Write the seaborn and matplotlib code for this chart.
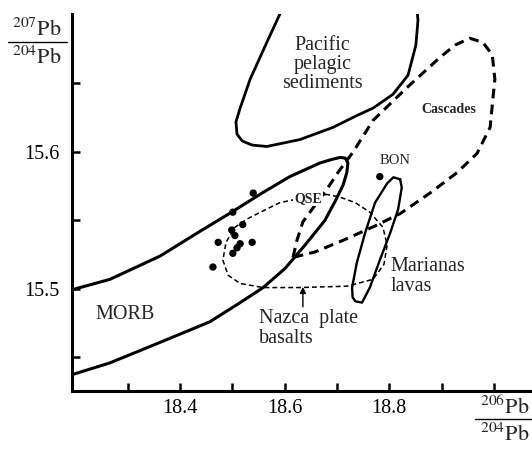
import matplotlib
matplotlib.use("Agg")
import matplotlib.pyplot as plt
from matplotlib.lines import Line2D
from matplotlib.ticker import FixedLocator
import seaborn as sns

# Pb isotope fields (206Pb/204Pb, 207Pb/204Pb)
morb_x = [18.19, 18.266, 18.362, 18.438, 18.490, 18.557, 18.610, 18.668, 18.690,
          18.706, 18.716, 18.721, 18.719, 18.712, 18.698, 18.677, 18.639, 18.601,
          18.559, 18.515, 18.457, 18.362, 18.266, 18.19]
morb_y = [15.499, 15.507, 15.524, 15.542, 15.554, 15.570, 15.582, 15.592, 15.5945,
          15.596, 15.5955, 15.592, 15.585, 15.576, 15.565, 15.550, 15.532, 15.515,
          15.501, 15.490, 15.476, 15.461, 15.446, 15.437]

pacific_x = [18.595, 18.566, 18.534, 18.515, 18.507, 18.509, 18.519, 18.538, 18.566,
             18.629, 18.693, 18.735, 18.769, 18.807, 18.836, 18.851, 18.855, 18.853]
pacific_y = [15.704, 15.680, 15.653, 15.632, 15.622, 15.613, 15.608, 15.605, 15.604,
             15.609, 15.618, 15.626, 15.632, 15.642, 15.656, 15.678, 15.696, 15.705]

cascades_x = [18.616, 18.624, 18.635, 18.658, 18.683, 18.702, 18.731, 18.769, 18.834,
              18.897, 18.926, 18.954, 18.979, 18.997, 19.002, 18.998, 18.993, 18.968,
              18.930, 18.878, 18.821, 18.773, 18.715, 18.658, 18.616]
cascades_y = [15.523, 15.536, 15.549, 15.561, 15.574, 15.585, 15.600, 15.623, 15.647,
              15.669, 15.678, 15.683, 15.680, 15.671, 15.653, 15.638, 15.618, 15.599,
              15.585, 15.570, 15.555, 15.546, 15.536, 15.527, 15.523]

marianas_x = [18.821, 18.808, 18.796, 18.773, 18.754, 18.738, 18.729, 18.730, 18.735,
              18.748, 18.763, 18.782, 18.802, 18.817, 18.824, 18.821]
marianas_y = [15.580, 15.5815, 15.577, 15.563, 15.541, 15.519, 15.501, 15.494, 15.491,
              15.490, 15.501, 15.521, 15.541, 15.558, 15.574, 15.580]

nazca_x = [18.681, 18.629, 18.591, 18.559, 18.528, 18.505, 18.488, 18.482, 18.492,
           18.515, 18.559, 18.629, 18.719, 18.769, 18.790, 18.796, 18.788, 18.763,
           18.735, 18.706, 18.681]
nazca_y = [15.569, 15.566, 15.563, 15.557, 15.551, 15.545, 15.534, 15.521, 15.510,
           15.504, 15.501, 15.501, 15.502, 15.507, 15.518, 15.532, 15.545, 15.556,
           15.563, 15.567, 15.569]

qse_x = [18.540, 18.501, 18.520, 18.499, 18.505, 18.473, 18.538, 18.515, 18.509,
         18.501, 18.463]
qse_y = [15.570, 15.556, 15.547, 15.543, 15.539, 15.534, 15.534, 15.533, 15.530,
         15.526, 15.516]
bon_x = [18.782]
bon_y = [15.582]

x_major = [18.4, 18.6, 18.8]
x_minor = [18.3, 18.5, 18.7, 18.9, 19.0]
y_major = [15.5, 15.6]
y_minor = [15.45, 15.55, 15.65]

sns.set_theme(style="white")
plt.rcParams["font.family"] = ["Liberation Serif", "DejaVu Serif"]
plt.rcParams["mathtext.fontset"] = "stix"
plt.rcParams["lines.scale_dashes"] = False

fig = plt.figure(figsize=(5.32, 4.53), dpi=100)
ax = fig.add_axes([0.1353, 0.1369, 0.8647, 0.8322])

solid = dict(sort=False, estimator=None, color="black", ax=ax, legend=False)
sns.lineplot(x=morb_x, y=morb_y, lw=2.2, **solid)
sns.lineplot(x=pacific_x, y=pacific_y, lw=2.0, **solid)
sns.lineplot(x=marianas_x, y=marianas_y, lw=1.7, **solid)
sns.lineplot(x=cascades_x, y=cascades_y, lw=2.2, linestyle=(0, (7, 4.5)), **solid)
sns.lineplot(x=nazca_x, y=nazca_y, lw=1.1, linestyle=(0, (3.5, 2.2)), **solid)

sns.scatterplot(x=qse_x + bon_x, y=qse_y + bon_y, color="black", s=28,
                edgecolor="none", ax=ax, legend=False, zorder=5)

# arrow to the Nazca field
ax.annotate("", xy=(18.635, 15.5015), xytext=(18.635, 15.487),
            arrowprops=dict(arrowstyle="-|>", color="black", lw=1.0,
                            mutation_scale=9, shrinkA=0, shrinkB=0))

big = 14.5
ax.text(18.672, 15.664, "Pacific\npelagic\nsediments", ha="center", va="center",
        fontsize=big, linespacing=1.0)
ax.text(18.914, 15.631, "Cascades", ha="center", va="center", fontsize=10, weight="bold")
ax.text(18.812, 15.594, "BON", ha="center", va="center", fontsize=10.5)
ax.text(18.645, 15.566, "QSE", ha="center", va="center", fontsize=10, weight="bold",
        zorder=6, bbox=dict(boxstyle="square,pad=0.1", fc="white", ec="none"))
ax.text(18.295, 15.481, "MORB", ha="center", va="center", fontsize=big)
ax.text(18.803, 15.509, "Marianas\nlavas", ha="left", va="center", fontsize=big,
        linespacing=1.05)
ax.text(18.551, 15.471, "Nazca  plate\nbasalts", ha="left", va="center", fontsize=big,
        linespacing=1.05)

ax.set_xlim(18.1935, 19.073)
ax.set_ylim(15.4255, 15.7007)
ax.xaxis.set_major_locator(FixedLocator(x_major))
ax.xaxis.set_minor_locator(FixedLocator(x_minor))
ax.yaxis.set_major_locator(FixedLocator(y_major))
ax.yaxis.set_minor_locator(FixedLocator(y_minor))
ax.set_xticklabels([f"{v:.1f}" for v in x_major])
ax.set_yticklabels([f"{v:.1f}" for v in y_major])
ax.tick_params(which="both", direction="in", length=6, width=1.8, color="black",
               labelsize=14.5, labelcolor="black")
ax.tick_params(axis="x", which="major", pad=6)
ax.tick_params(axis="y", which="major", pad=9)
ax.tick_params(bottom=True, left=True, which="both")

for side in ["top", "right"]:
    ax.spines[side].set_visible(False)
for side in ["left", "bottom"]:
    ax.spines[side].set_color("black")
    ax.spines[side].set_linewidth(2.2)

# axis titles drawn as ratios
fs = 16
fig.text(37 / 532, 1 - 30 / 453, r"$^{207}\mathrm{Pb}$", ha="center", va="center", fontsize=fs)
fig.text(37 / 532, 1 - 58 / 453, r"$^{204}\mathrm{Pb}$", ha="center", va="center", fontsize=fs)
fig.add_artist(Line2D([8 / 532, 67 / 532], [1 - 42 / 453, 1 - 42 / 453],
                      transform=fig.transFigure, color="black", lw=1.0))
fig.text(505 / 532, 1 - 407 / 453, r"$^{206}\mathrm{Pb}$", ha="center", va="center", fontsize=fs)
fig.text(505 / 532, 1 - 435 / 453, r"$^{204}\mathrm{Pb}$", ha="center", va="center", fontsize=fs)
fig.add_artist(Line2D([475 / 532, 1.0], [1 - 419 / 453, 1 - 419 / 453],
                      transform=fig.transFigure, color="black", lw=1.0))

fig.savefig("out.png", dpi=100)
